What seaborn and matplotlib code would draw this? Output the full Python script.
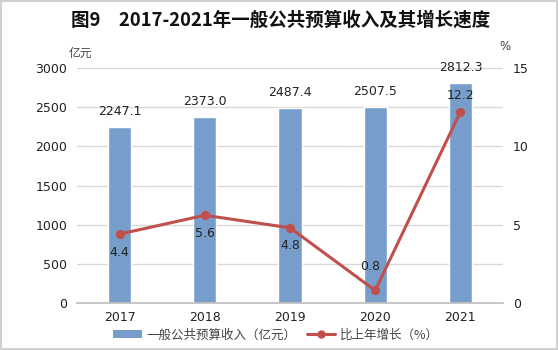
import matplotlib
matplotlib.use("Agg")
import matplotlib.pyplot as plt
import seaborn as sns
import numpy as np
import pandas as pd
from matplotlib.patches import Patch, Rectangle
from matplotlib.lines import Line2D

years = ["2017", "2018", "2019", "2020", "2021"]
revenue = [2247.1, 2373.0, 2487.4, 2507.5, 2812.3]
growth = [4.4, 5.6, 4.8, 0.8, 12.2]
left_ticks = [0, 500, 1000, 1500, 2000, 2500, 3000]
right_ticks = [0, 5, 10, 15]

sns.set_theme(style="white")
plt.rcParams['font.family'] = ['DejaVu Sans', 'Noto Sans CJK SC']
CJK = ['Noto Sans CJK SC', 'DejaVu Sans']

bar_color = "#779ECB"
line_color = "#C0504D"
grid_color = "#D9D9D9"

df = pd.DataFrame({"year": years, "revenue": revenue, "growth": growth})

fig = plt.figure(figsize=(5.58, 3.5), dpi=100)
ax = fig.add_axes([77/558, 1-303/350, (503-77)/558, (303-68)/350])

sns.barplot(data=df, x="year", y="revenue", color=bar_color, width=0.27,
            saturation=1, ax=ax, zorder=2)
ax.set_ylim(0, 3000)
ax.set_yticks(left_ticks)
ax.set_xlabel("")
ax.set_ylabel("")
ax.yaxis.grid(True, color=grid_color, linewidth=1)
ax.set_axisbelow(True)
for s in ["top", "right", "left"]:
    ax.spines[s].set_visible(False)
ax.spines["bottom"].set_color("#BFBFBF")
ax.tick_params(axis="y", length=0, labelsize=9, colors="#222222", pad=7)
ax.tick_params(axis="x", which="major", length=0, labelsize=9, colors="#222222", pad=6)
ax.set_xticks(np.arange(-0.5, 5, 1), minor=True)
ax.tick_params(axis="x", which="minor", length=4, color="#BFBFBF", direction="out")

for i, v in enumerate(revenue):
    ax.annotate(f"{v:.1f}", (i, v), xytext=(0, 11), textcoords="offset points",
                ha="center", va="center", fontsize=9, color="#222222")

ax2 = ax.twinx()
sns.pointplot(data=df, x="year", y="growth", color=line_color, ax=ax2,
              markers="o", markersize=5, linewidth=2.2, zorder=3)
ax2.set_ylim(0, 15)
ax2.set_yticks(right_ticks)
ax2.set_ylabel("")
ax2.set_xlabel("")
for s in ["top", "right", "left", "bottom"]:
    ax2.spines[s].set_visible(False)
ax2.tick_params(axis="y", length=0, labelsize=9, colors="#222222", pad=7)
ax2.grid(False)
ax.set_xlim(-0.5, 4.5)
ax2.set_xlim(-0.5, 4.5)

offsets = [(0, -13), (0, -13), (0, -13), (-4, 17), (0, 12)]
for i, (v, off) in enumerate(zip(growth, offsets)):
    ax2.annotate(f"{v:.1f}", (i, v), xytext=off, textcoords="offset points",
                 ha="center", va="center", fontsize=9, color="#222222")

fig.text(281/558, 1-20/350, "图9　2017-2021年一般公共预算收入及其增长速度",
         ha="center", va="center", fontsize=13.3, fontweight="bold",
         family=CJK, color="#111111")
fig.text(80/558, 1-53/350, "亿元", ha="center", va="center", fontsize=8.5,
         family=CJK, color="#444444")
fig.text(505/558, 1-46/350, "%", ha="center", va="center", fontsize=8.5,
         color="#444444")

handles = [Patch(facecolor=bar_color, edgecolor="none"),
           Line2D([0], [0], color=line_color, linewidth=2.2, marker="o", markersize=5)]
labels = ["一般公共预算收入（亿元）", "比上年增长（%）"]
leg = fig.legend(handles, labels, loc="center", bbox_to_anchor=(276/558, 1-335/350),
                 ncol=2, frameon=False, prop={"family": CJK, "size": 9},
                 handlelength=2.3, handleheight=0.6, columnspacing=0.8, handletextpad=0.4)
for t in leg.get_texts():
    t.set_color("#444444")

fig.patches.append(Rectangle((0.001, 0.003), 0.997, 0.994, transform=fig.transFigure,
                             fill=False, edgecolor="#D0D0D0", linewidth=1.5))

fig.savefig("out.png", dpi=100)
